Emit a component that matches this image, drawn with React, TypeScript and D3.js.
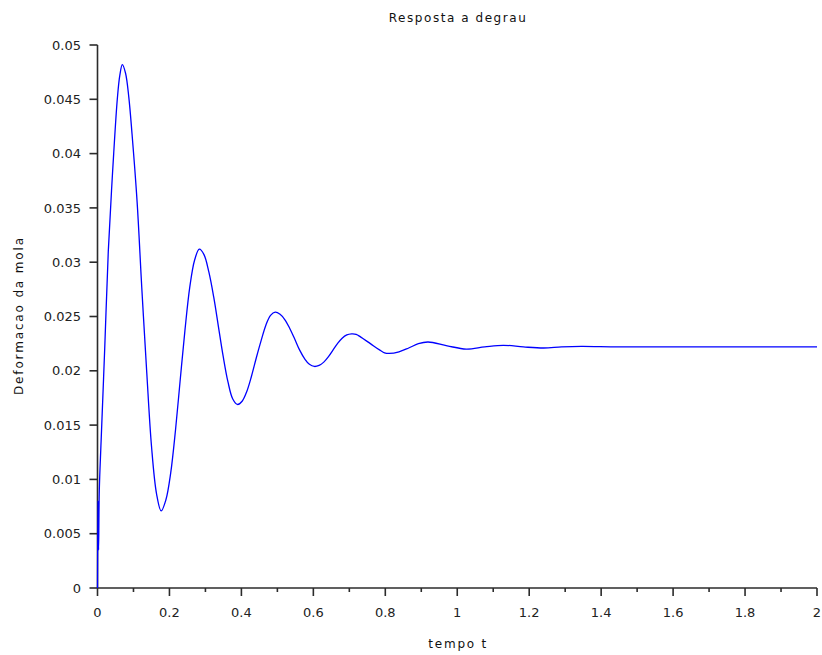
import React from 'react';
import * as d3 from 'd3';

// step response: [tempo t, deformacao]
const tempo = [
  0, 0.0015, 0.003, 0.005, 0.01, 0.02, 0.03, 0.039, 0.045, 0.055, 0.062, 0.069,
  0.078, 0.087, 0.096, 0.11, 0.123, 0.137, 0.15, 0.164, 0.177,
  0.19, 0.2035, 0.217, 0.23, 0.243, 0.2565, 0.27, 0.283,
  0.296, 0.3095, 0.323, 0.336, 0.349, 0.3625, 0.376, 0.389,
  0.402, 0.415, 0.428, 0.4415, 0.455, 0.468, 0.481, 0.494,
  0.5075, 0.521, 0.5345, 0.5485, 0.562, 0.576, 0.589, 0.603,
  0.616, 0.629, 0.642, 0.6545, 0.667, 0.68, 0.693, 0.706,
  0.719, 0.732, 0.7585, 0.785, 0.798, 0.811,
  0.838, 0.865, 0.892, 0.919,
  0.972, 1.025, 1.0765, 1.128, 1.184, 1.24, 1.29, 1.345, 1.45, 1.7, 2.0,
];
const deformacao = [
  0, 0.008, 0.0035, 0.009, 0.0135, 0.022, 0.031, 0.0366, 0.04, 0.045, 0.0472, 0.0482,
  0.0474, 0.0452, 0.0418, 0.0356, 0.0277, 0.0198, 0.0131, 0.0087, 0.0071,
  0.0081, 0.0106, 0.0146, 0.0192, 0.0237, 0.0277, 0.0302, 0.0312,
  0.0307, 0.0291, 0.0268, 0.0241, 0.0214, 0.019, 0.0174, 0.0169,
  0.0172, 0.0181, 0.0195, 0.0212, 0.0228, 0.0242, 0.0251, 0.0254,
  0.0252, 0.0247, 0.0239, 0.0229, 0.0219, 0.0211, 0.0206, 0.0204,
  0.0205, 0.0208, 0.0213, 0.0219, 0.0225, 0.023, 0.0233, 0.0234,
  0.02336, 0.0231, 0.0225, 0.0219, 0.02165, 0.0216,
  0.02175, 0.0221, 0.0225, 0.02265,
  0.0223, 0.022, 0.0222, 0.02235, 0.0222, 0.0221, 0.0222, 0.02225, 0.0222, 0.0222, 0.0222,
];

const xTicks = [0, 0.2, 0.4, 0.6, 0.8, 1, 1.2, 1.4, 1.6, 1.8, 2];
const xTickLabels = ['0', '0.2', '0.4', '0.6', '0.8', '1', '1.2', '1.4', '1.6', '1.8', '2'];
const xMinorTicks = [0.1, 0.3, 0.5, 0.7, 0.9, 1.1, 1.3, 1.5, 1.7, 1.9];
const yTicks = [0, 0.005, 0.01, 0.015, 0.02, 0.025, 0.03, 0.035, 0.04, 0.045, 0.05];
const yTickLabels = ['0', '0.005', '0.01', '0.015', '0.02', '0.025', '0.03', '0.035', '0.04', '0.045', '0.05'];

const title = 'Resposta a degrau';
const xLabel = 'tempo t';
const yLabel = 'Deformacao da mola';

export default function App() {
  const width = 822;
  const height = 655;
  const left = 97.5, right = 817, top = 45, bottom = 588;

  const x = d3.scaleLinear().domain([0, 2]).range([left, right]);
  const y = d3.scaleLinear().domain([0, 0.05]).range([bottom, top]);

  const points = tempo.map((t, i) => [t, deformacao[i]] as [number, number]);
  const line = d3.line<[number, number]>()
    .x(d => x(d[0]))
    .y(d => y(d[1]))
    .curve(d3.curveCatmullRom.alpha(0.5));

  const font = '"DejaVu Sans", sans-serif';
  const axisColor = '#2b2b2b';

  return (
    <div style={{ position: 'absolute', left: 0, top: 0 }}>
      <svg width={width} height={height} style={{ display: 'block', background: '#fff' }}>
        <text x={(left + right) / 2} y={22} textAnchor="middle" fontFamily={font} fontSize={12}
          textLength={137} lengthAdjust="spacing" fill="#111">{title}</text>

        {/* y axis */}
        <line x1={left} x2={left} y1={top} y2={bottom} stroke={axisColor} strokeWidth={1.6} />
        {yTicks.map((v, i) => (
          <g key={'y' + i}>
            <line x1={left - 8} x2={left} y1={y(v)} y2={y(v)} stroke={axisColor} strokeWidth={1.6} />
            <text x={81} y={y(v)} dy="0.36em" textAnchor="end" fontFamily={font} fontSize={13} fill="#222">
              {yTickLabels[i]}
            </text>
          </g>
        ))}

        {/* x axis */}
        <line x1={left} x2={right} y1={bottom} y2={bottom} stroke={axisColor} strokeWidth={1.6} />
        {xTicks.map((v, i) => (
          <g key={'x' + i}>
            <line x1={x(v)} x2={x(v)} y1={bottom} y2={bottom + 8} stroke={axisColor} strokeWidth={1.6} />
            <text x={x(v)} y={617} textAnchor="middle" fontFamily={font} fontSize={13} fill="#222">
              {xTickLabels[i]}
            </text>
          </g>
        ))}
        {xMinorTicks.map((v, i) => (
          <line key={'m' + i} x1={x(v)} x2={x(v)} y1={bottom} y2={bottom + 4} stroke={axisColor} strokeWidth={1.6} />
        ))}

        <text x={(left + right) / 2} y={648} textAnchor="middle" fontFamily={font} fontSize={12}
          textLength={58} lengthAdjust="spacing" fill="#111">{xLabel}</text>
        <text transform={`translate(23,${(top + bottom) / 2}) rotate(-90)`} textAnchor="middle"
          fontFamily={font} fontSize={12} textLength={157} lengthAdjust="spacing" fill="#111">{yLabel}</text>

        <path d={line(points) || ''} fill="none" stroke="#0000ff" strokeWidth={1.3} />
      </svg>
    </div>
  );
}
